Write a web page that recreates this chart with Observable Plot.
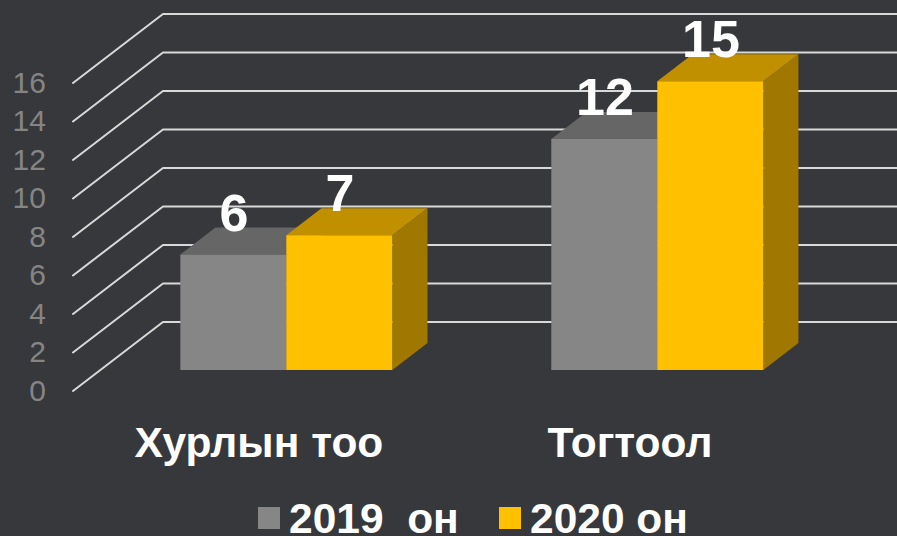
<!DOCTYPE html>
<html>
<head>
<meta charset="utf-8">
<script src="https://cdn.jsdelivr.net/npm/d3@7"></script>
<script src="https://cdn.jsdelivr.net/npm/@observablehq/plot@0.6"></script>
<style>
html,body{margin:0;padding:0;background:#37383c;width:897px;height:536px;overflow:hidden;font-family:"Liberation Sans",Arial,sans-serif}
#chart svg{display:block}
#legend{position:relative;height:46px;color:#fff;font-weight:bold;font-size:42.5px;white-space:pre}
#legend i{position:absolute;top:17px;width:22px;height:22px}
#legend span{position:absolute;top:11px;line-height:36px}
</style>
</head>
<body>
<div id="chart"></div>
<div id="legend"></div>
<script>
const categories = ["Хурлын тоо", "Тогтоол"];
const seriesNames = ["2019  он", "2020 он"];
const values2019 = [6, 12];
const values2020 = [7, 15];
const yTicks = [0, 2, 4, 6, 8, 10, 12, 14, 16];
const frontColors = ["#868686", "#ffc000"];
const topColors = ["#666666", "#c09000"];
const sideColors = ["#646464", "#a07800"];
const background = "#37383c";
const gridColor = "#d9d9d9";

// Scale units: one x unit = category spacing, y unit = value. Oblique 3D projection.
const depthX = 90 / 371, depthY = 69 / 19.25;
const barFront = 0.304, barBack = 0.695, barW = 106 / 371;
const xDomain = [-0.6967, 1.7213], yDomain = [-5.169, 20.284], wallX = -0.5013;
const P = (x, v, d) => ({x: x + d * depthX, y: v + d * depthY});

const gridPts = yTicks.flatMap(t => [
  {t, ...P(wallX, t, 0)},
  {t, ...P(wallX, t, 1)},
  {t, x: xDomain[1], y: P(0, t, 1).y}
]);

const faces = [];
const bars = [];
[values2019, values2020].forEach((vals, s) => {
  vals.forEach((v, g) => {
    const x0 = g + (s - 1) * barW, x1 = x0 + barW;
    const poly = (id, color, pts) => pts.forEach(p => faces.push({id: `${s}-${g}-${id}`, color, ...p}));
    poly("side", sideColors[s], [P(x1,0,barFront), P(x1,0,barBack), P(x1,v,barBack), P(x1,v,barFront)]);
    poly("top", topColors[s], [P(x0,v,barFront), P(x1,v,barFront), P(x1,v,barBack), P(x0,v,barBack)]);
    poly("front", frontColors[s], [P(x0,0,barFront), P(x1,0,barFront), P(x1,v,barFront), P(x0,v,barFront)]);
    bars.push({v, ...P((x0 + x1) / 2, v, barBack)});
  });
});

const plot = Plot.plot({
  width: 897, height: 490,
  marginTop: 0, marginRight: 0, marginBottom: 0, marginLeft: 0,
  style: {background, fontFamily: '"Liberation Sans", Arial, sans-serif'},
  x: {domain: xDomain, range: [0, 897], axis: null},
  y: {domain: yDomain, range: [490, 0], axis: null},
  marks: [
    Plot.line(gridPts, {x: "x", y: "y", z: "t", stroke: gridColor, strokeWidth: 2, curve: "linear"}),
    Plot.text(yTicks, {x: () => wallX, y: d => d, text: d => String(d), textAnchor: "end", dx: -27, lineAnchor: "middle", fontSize: 30, fill: "#858585"}),
    Plot.line(faces, {x: "x", y: "y", z: "id", stroke: null, fill: {value: d => d.color, scale: null}}),
    Plot.text(bars, {x: "x", y: "y", text: d => String(d.v), dx: -34.5, dy: -13.5, lineAnchor: "middle", fontSize: 52, fontWeight: "bold", fill: "#fff"}),
    Plot.text(categories, {x: (d, i) => i, y: () => 0, text: d => d, dy: 52.5, lineAnchor: "middle", fontSize: 42.5, fontWeight: "bold", fill: "#fff"})
  ]
});
document.getElementById("chart").append(plot);

const legend = document.getElementById("legend");
[[258, 289], [499, 530]].forEach(([sx, tx], i) => {
  const sw = document.createElement("i");
  sw.style.left = sx + "px"; sw.style.background = frontColors[i];
  const tt = document.createElement("span");
  tt.style.left = tx + "px"; tt.textContent = seriesNames[i];
  legend.append(sw, tt);
});
</script>
</body>
</html>
